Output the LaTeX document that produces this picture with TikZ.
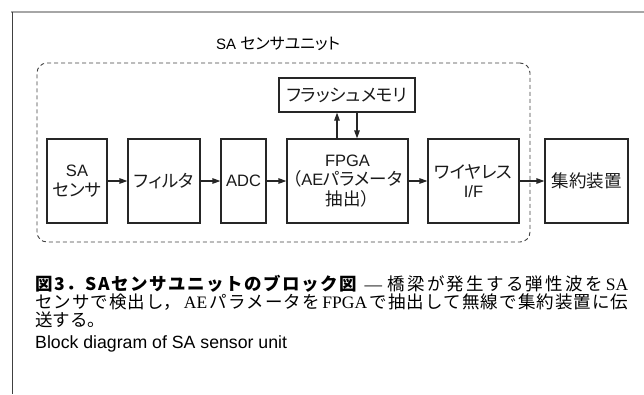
\documentclass[tikz,border=0pt]{standalone}
\usepackage{fontspec}
\setmainfont{Liberation Sans}
\newfontfamily\jp{Noto Sans CJK JP}
\newfontfamily\jpp[RawFeature=+palt]{Noto Sans CJK JP}
\newfontfamily\serif{Liberation Serif}
\usetikzlibrary{arrows.meta}
\newcommand\J[1]{{\jpp\fontsize{17.5}{19.5}\selectfont #1}}
\newcommand\Sf[1]{{\serif #1}}
\makeatletter
\newcommand\spreadbox[2]{\makebox[#1][s]{\spr@first#2\spr@nil}}
\def\spr@first#1{#1\spr@loop}
\def\spr@loop#1{\ifx#1\spr@nil\else\hfil#1\expandafter\spr@loop\fi}
\makeatother
\tikzset{
  blk/.style={draw=black!85, line width=1.2pt, inner sep=0pt, align=center,
    font=\fontsize{16.5}{19.5}\selectfont, text=black!90},
  arr/.style={draw=black!85, line width=1.2pt, -{Triangle[length=8pt,width=5.5pt]}},
  capline/.style={anchor=base west, inner sep=0pt, text width=593pt, align=justify,
    font=\fontsize{17.5}{18}\selectfont},
}
\begin{document}
\begin{tikzpicture}[x=1pt,y=-1pt]
\useasboundingbox (0,0) rectangle (644,394);
% frame
\draw[black!35, line width=1.8pt] (11,12) -- (644,12);
\draw[black!75, line width=1pt] (12,12) -- (12,394);
% unit box
\node[draw=black!75, dashed, dash pattern=on 4pt off 3pt, line width=0.9pt, rounded corners=10pt,
  minimum width=493pt, minimum height=179pt, inner sep=0pt] (unit) at (283.5,152.5) {};
\node[font=\fontsize{15}{19}\selectfont, inner sep=0pt] (title) at (278,44) {SA {\jpp\fontsize{16}{19}\selectfont センサユニット}};
% blocks
\node[blk, minimum width=60pt, minimum height=84pt] (sa) at (77,181) {SA\\\J{センサ}};
\node[blk, minimum width=72pt, minimum height=84pt] (filt) at (164,181) {\J{フィルタ}};
\node[blk, minimum width=45pt, minimum height=84pt] (adc) at (243.5,181) {ADC};
\node[blk, minimum width=121pt, minimum height=84pt] (fpga) at (347.5,181) {FPGA\\\J{（}AE\J{パラメータ}\\\J{抽出）}};
\node[blk, minimum width=91pt, minimum height=84pt] (wl) at (473.5,181) {\J{ワイヤレス}\\I/F};
\node[blk, minimum width=83pt, minimum height=84pt] (agg) at (586.5,181) {\J{集約装置}};
\node[blk, minimum width=136pt, minimum height=34pt] (flash) at (347,95) {\J{フラッシュメモリ}};
% connectors
\draw[arr] (sa) -- (filt);
\draw[arr] (filt) -- (adc);
\draw[arr] (adc) -- (fpga);
\draw[arr] (fpga) -- (wl);
\draw[arr] (wl) -- (agg);
\coordinate (ux) at (337,0);
\coordinate (dx) at (357,0);
\draw[arr] (fpga.north -| ux) -- (flash.south -| ux);
\draw[arr] (flash.south -| dx) -- (fpga.north -| dx);
% caption
\node[capline] (cap1) at (35,290) {\noindent\XeTeXlinebreaklocale "ja"\XeTeXlinebreakskip=0pt plus 6pt\parfillskip=0pt
  {\jp\bfseries\spreadbox{322pt}{図3．SAセンサユニットのブロック図}}\hskip 6pt plus 4pt\Sf{—}\hskip 4pt plus 4pt{\jp 橋梁が発生する弾性波を}\hskip 2pt plus 3pt\Sf{SA}\par};
\node[capline] (cap2) at (35,308) {\noindent\XeTeXlinebreaklocale "ja"\XeTeXlinebreakskip=0pt plus 6pt\parfillskip=0pt
  {\jp センサで検出し，}\hskip 2pt plus 3pt\Sf{AE}\hskip 2pt plus 3pt{\jp パラメータを}\hskip 2pt plus 3pt\Sf{FPGA}\hskip 2pt plus 3pt{\jp で抽出して無線で集約装置に伝}\par};
\node[capline] (cap3) at (35,326) {\noindent{\jp 送する。}\par};
\node[anchor=base west, inner sep=0pt, font=\fontsize{17.7}{20}\selectfont] (cap4) at (35,348) {Block diagram of SA sensor unit};
\end{tikzpicture}
\end{document}
